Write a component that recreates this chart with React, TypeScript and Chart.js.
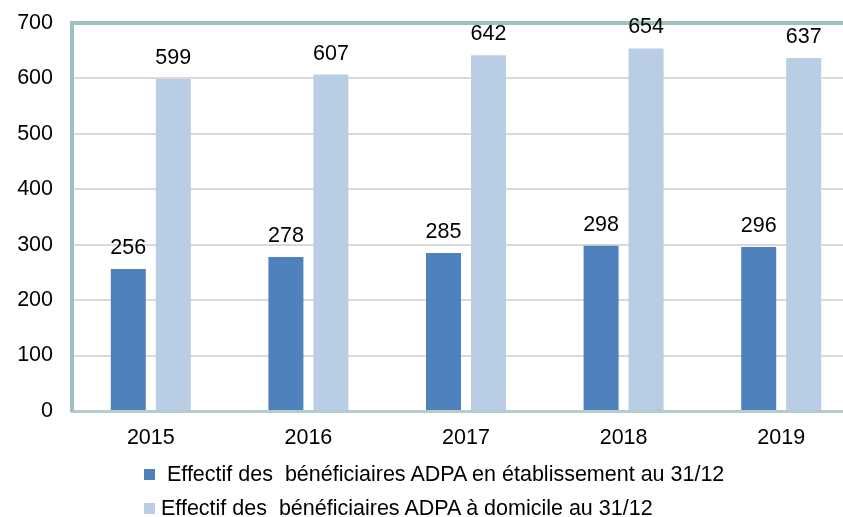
import React, { useEffect, useRef } from "react";
import { Chart, registerables } from "chart.js";

Chart.register(...registerables);

const categories = ["2015", "2016", "2017", "2018", "2019"];
const etablissement = [256, 278, 285, 298, 296];
const domicile = [599, 607, 642, 654, 637];
const seriesLabels = [
  " Effectif des  bénéficiaires ADPA en établissement au 31/12",
  "Effectif des  bénéficiaires ADPA à domicile au 31/12",
];
const seriesColors = ["#4F81BD", "#B9CDE5"];
const yTicks = [0, 100, 200, 300, 400, 500, 600, 700];

const FONT = "Arial, 'Liberation Sans', sans-serif";
const FS = 21.5;
const TEAL = "#9BC2BE";

const valueLabels = {
  id: "valueLabels",
  afterDatasetsDraw(chart: any) {
    const ctx = chart.ctx;
    ctx.save();
    ctx.font = `${FS}px ${FONT}`;
    ctx.fillStyle = "#000";
    ctx.textAlign = "center";
    ctx.textBaseline = "alphabetic";
    chart.data.datasets.forEach((ds: any, i: number) => {
      const meta = chart.getDatasetMeta(i);
      meta.data.forEach((el: any, j: number) => {
        ctx.fillText(String(ds.data[j]), el.x, el.y - 15);
      });
    });
    ctx.restore();
  },
};

export default function App() {
  const ref = useRef<HTMLCanvasElement | null>(null);
  useEffect(() => {
    if (!ref.current) return;
    const chart = new Chart(ref.current, {
      type: "bar",
      data: {
        labels: categories,
        datasets: [
          { label: seriesLabels[0], data: etablissement, backgroundColor: seriesColors[0] },
          { label: seriesLabels[1], data: domicile, backgroundColor: seriesColors[1] },
        ],
      },
      options: {
        animation: false,
        responsive: false,
        maintainAspectRatio: false,
        layout: { padding: { top: 23, bottom: 66, left: 0, right: 0 } },
        datasets: {
          bar: { categoryPercentage: 0.571, barPercentage: 0.778 },
        },
        plugins: { legend: { display: false }, tooltip: { enabled: false } },
        scales: {
          x: {
            grid: { display: false, drawTicks: false },
            border: { display: true, color: "#B3CDCA", width: 3 },
            ticks: { color: "#000", font: { family: FONT, size: FS }, padding: 14 },
            afterFit: (s: any) => {
              s.height = 40;
              s.paddingLeft = 0;
              s.paddingRight = 0;
            },
          },
          y: {
            min: 0,
            max: 700,
            afterBuildTicks: (s: any) => {
              s.ticks = yTicks.map((v) => ({ value: v }));
            },
            grid: {
              drawTicks: false,
              color: (c: any) =>
                c.tick && c.tick.value === 700 ? TEAL : c.tick && c.tick.value === 0 ? "#B3CDCA" : "#D9D9D9",
              lineWidth: (c: any) => (c.tick && c.tick.value === 700 ? 4 : 2),
            },
            border: { display: true, color: TEAL, width: 4 },
            ticks: { color: "#000", font: { family: FONT, size: FS }, padding: 19 },
            afterFit: (s: any) => {
              s.width = 72;
              s.paddingTop = 0;
              s.paddingBottom = 0;
            },
          },
        },
      },
      plugins: [valueLabels],
    });
    return () => chart.destroy();
  }, []);

  const legendText: React.CSSProperties = {
    position: "absolute",
    fontFamily: FONT,
    fontSize: FS,
    color: "#000",
    whiteSpace: "pre",
    lineHeight: "22px",
  };
  return (
    <div style={{ position: "fixed", left: 0, top: 0, width: 843, height: 517, overflow: "hidden", background: "#fff" }}>
      <canvas ref={ref} width={860} height={517} style={{ display: "block", width: 860, height: 517 }} />
      <div style={{ position: "absolute", left: 144, top: 469, width: 11, height: 11, background: seriesColors[0] }} />
      <div style={{ ...legendText, left: 161, top: 463 }}>{seriesLabels[0]}</div>
      <div style={{ position: "absolute", left: 144, top: 503, width: 11, height: 11, background: seriesColors[1] }} />
      <div style={{ ...legendText, left: 161, top: 497 }}>{seriesLabels[1]}</div>
    </div>
  );
}
